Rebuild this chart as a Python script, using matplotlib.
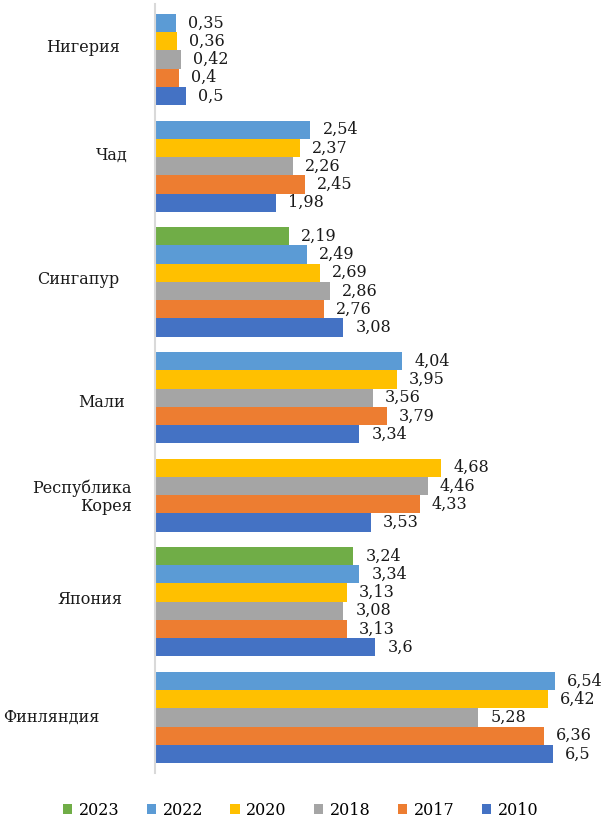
import numpy as np
import matplotlib
matplotlib.use("Agg")
import matplotlib.pyplot as plt
from matplotlib.patches import Patch

countries = ["Нигерия", "Чад", "Сингапур", "Мали", "Республика\nКорея", "Япония", "Финляндия"]
years = ["2023", "2022", "2020", "2018", "2017", "2010"]
nan = np.nan
v2023 = [nan, nan, 2.19, nan, nan, 3.24, nan]
v2022 = [0.35, 2.54, 2.49, 4.04, nan, 3.34, 6.54]
v2020 = [0.36, 2.37, 2.69, 3.95, 4.68, 3.13, 6.42]
v2018 = [0.42, 2.26, 2.86, 3.56, 4.46, 3.08, 5.28]
v2017 = [0.40, 2.45, 2.76, 3.79, 4.33, 3.13, 6.36]
v2010 = [0.50, 1.98, 3.08, 3.34, 3.53, 3.60, 6.50]
series = [v2023, v2022, v2020, v2018, v2017, v2010]
colors = ["#70AD47", "#5B9BD5", "#FFC000", "#A5A5A5", "#ED7D31", "#4472C4"]

# layout: label right-edge offsets (px from axis) and vertical nudges (rows)
label_pad_px = [35, 27, 36, 30, 23, 33, 55]
label_dy = [-0.65, -0.62, -0.14, 0.25, 0.1, -0.14, 0.0]

W, H, DPI = 609, 821, 100
fig = plt.figure(figsize=(W / DPI, H / DPI), dpi=DPI)
ax = fig.add_axes([155 / W, 1 - 773 / H, 428.4 / W, (773 - 4) / H])

FONT = ["DejaVu Serif"]
FS = 11.5
GAP = 0.85

pos = 0.0
centers = []
for ci in range(len(countries)):
    start = pos
    for si, s in enumerate(series):
        v = s[ci]
        if np.isnan(v):
            continue
        ax.barh(pos, v, height=1.0, color=colors[si], edgecolor="none")
        ax.annotate(f"{v:g}".replace(".", ","), xy=(v, pos), xytext=(12 * 72 / DPI, 0),
                    textcoords="offset points", va="center", ha="left",
                    fontsize=FS, family=FONT, color="#1a1a1a")
        pos += 1
    centers.append((start + pos - 1) / 2)
    pos += GAP

last = pos - GAP - 1
ax.set_xlim(0, 7)
ax.set_ylim(last + 0.5 + 0.55, -0.5 - 0.55)

for ci, name in enumerate(countries):
    ax.annotate(name, xy=(0, centers[ci] + label_dy[ci]),
                xytext=(-label_pad_px[ci] * 72 / DPI, 0), textcoords="offset points",
                ha="right", va="center", fontsize=FS, family=FONT, color="#1a1a1a",
                multialignment="right", linespacing=1.1)

for sp in ["top", "right", "bottom"]:
    ax.spines[sp].set_visible(False)
ax.spines["left"].set_color("#d9d9d9")
ax.spines["left"].set_linewidth(1.5)
ax.set_xticks([])
ax.set_yticks([])

handles = [Patch(facecolor=c, edgecolor="none") for c in colors]
fig.legend(handles, years, loc="center", bbox_to_anchor=(0.4935, 1 - 810 / H), ncol=6,
           frameon=False, prop={"family": FONT, "size": FS},
           handlelength=0.6, handleheight=0.6, handletextpad=0.4, columnspacing=1.7)

fig.savefig("out.png", dpi=DPI)
